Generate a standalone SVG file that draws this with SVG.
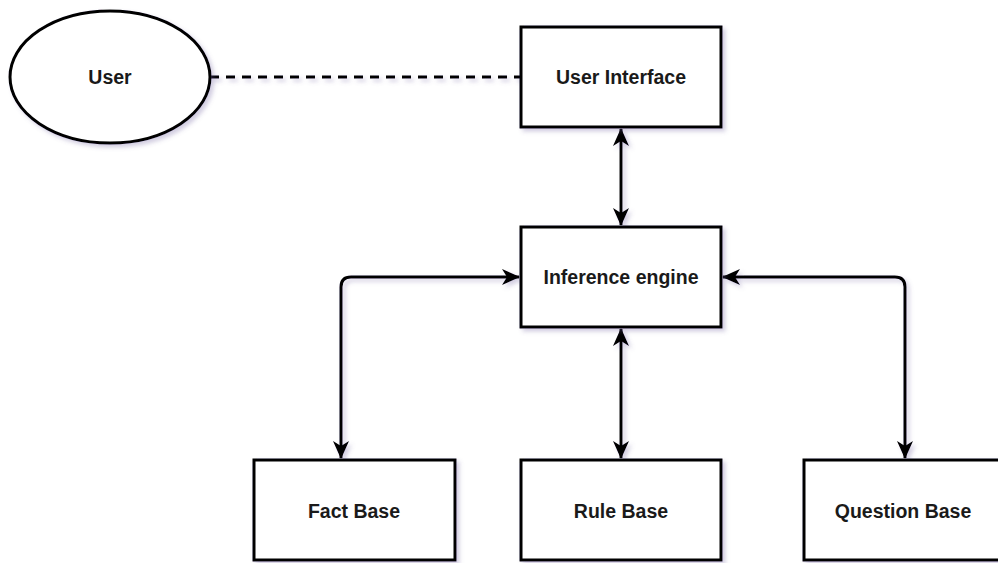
<svg xmlns="http://www.w3.org/2000/svg" width="998" height="563" viewBox="0 0 998 563">
<style>
.n{fill:#fff;stroke:#000;stroke-width:3;filter:url(#sh)}
.t{font-family:"Liberation Sans",Arial,sans-serif;font-weight:bold;font-size:19.5px;fill:#1a1a1a;text-anchor:middle;dominant-baseline:central}
.c{fill:none;stroke:#000;stroke-width:3;filter:url(#sh)}
</style>
<defs>
<filter id="sh" filterUnits="userSpaceOnUse" x="0" y="0" width="998" height="563">
<feDropShadow dx="3" dy="3" stdDeviation="2" flood-color="#6a5a9a" flood-opacity="0.3"/>
</filter>
<marker id="a" viewBox="0 0 18 16" refX="17" refY="8" markerWidth="18" markerHeight="16" markerUnits="userSpaceOnUse" orient="auto-start-reverse">
<path d="M0,0 L18,8 L0,16 L5,8 Z" fill="#000"/>
</marker>
</defs>
<g id="connectors">
<path class="c" d="M210,77 H521" stroke-dasharray="9 7"/>
<path class="c" d="M621,129 V225" marker-start="url(#a)" marker-end="url(#a)"/>
<path class="c" d="M621,329 V458" marker-start="url(#a)" marker-end="url(#a)"/>
<path class="c" d="M519,277 H351 Q341,277 341,287 V458" marker-start="url(#a)" marker-end="url(#a)"/>
<path class="c" d="M723,277 H895 Q905,277 905,287 V458" marker-start="url(#a)" marker-end="url(#a)"/>
</g>
<g id="user"><ellipse class="n" cx="110" cy="77" rx="100" ry="66"/><text class="t" x="110" y="77">User</text></g>
<g id="ui"><rect class="n" x="521" y="27" width="200" height="100"/><text class="t" x="621" y="77">User Interface</text></g>
<g id="ie"><rect class="n" x="521" y="227" width="200" height="100"/><text class="t" x="621" y="277">Inference engine</text></g>
<g id="fact"><rect class="n" x="254" y="460" width="201" height="100"/><text class="t" x="354" y="511">Fact Base</text></g>
<g id="rule"><rect class="n" x="521" y="460" width="200" height="100"/><text class="t" x="621" y="511">Rule Base</text></g>
<g id="question"><rect class="n" x="804" y="460" width="200" height="100"/><text class="t" x="903" y="511">Question Base</text></g>
</svg>
